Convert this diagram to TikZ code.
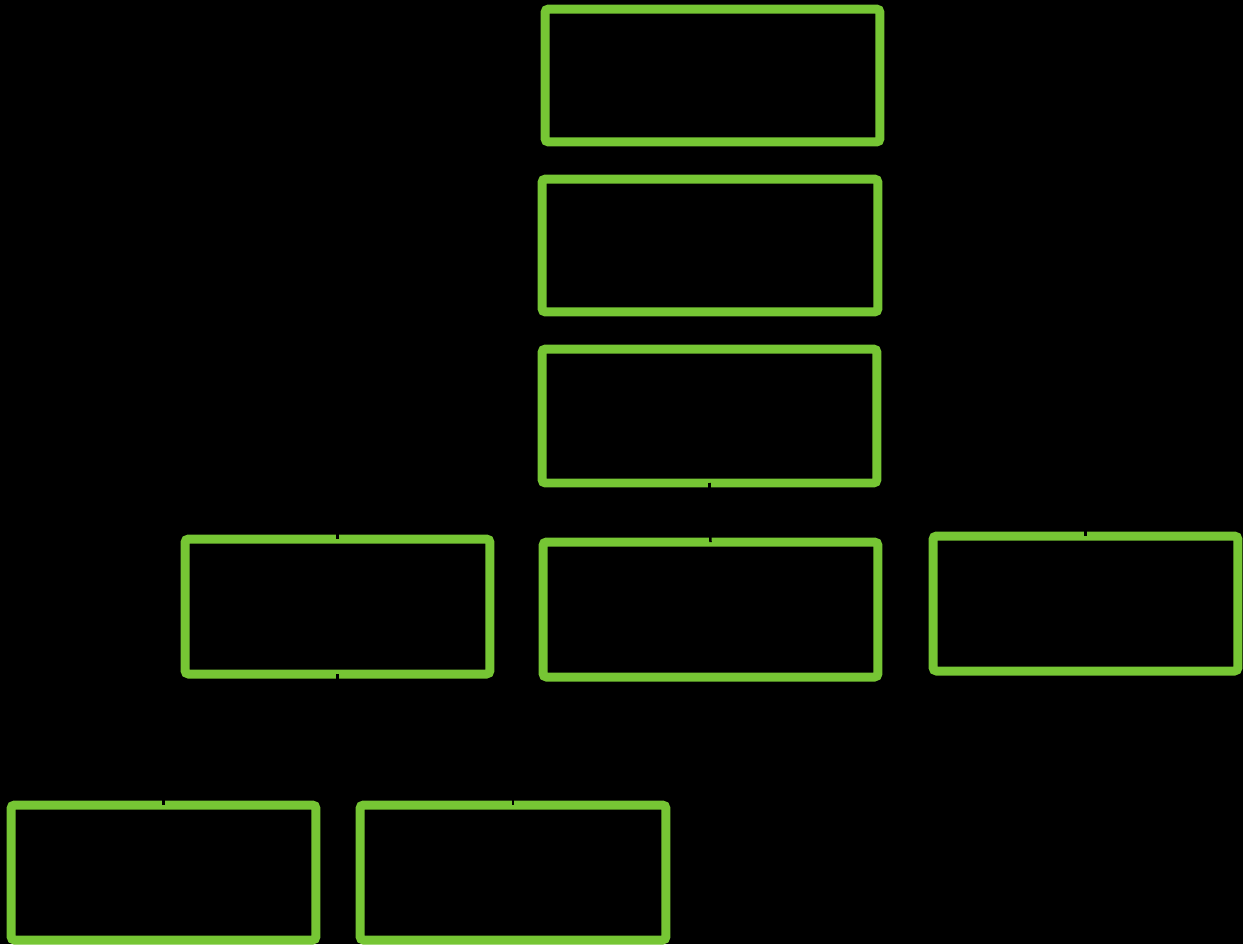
\documentclass[tikz,border=0pt]{standalone}
\definecolor{boxgreen}{RGB}{118,198,52}
\begin{document}
\begin{tikzpicture}[x=0.02cm,y=-0.02cm,
  gbox/.style={draw=boxgreen,line width=0.18cm,rounded corners=2pt,outer sep=0pt,inner sep=0pt},
  conn/.style={draw=black,line width=0.05cm}]
\fill[black] (0,0) rectangle (1243,944);
\useasboundingbox (0,0) rectangle (1243,944);
\node[gbox,minimum width=6.70cm,minimum height=2.66cm] (b1) at (712.5,75.5) {};
\node[gbox,minimum width=6.72cm,minimum height=2.66cm] (b2) at (710,245.5) {};
\node[gbox,minimum width=6.70cm,minimum height=2.68cm] (b3) at (709.5,416) {};
\node[gbox,minimum width=6.70cm,minimum height=2.70cm] (b4) at (710.5,609.5) {};
\node[gbox,minimum width=6.10cm,minimum height=2.70cm] (bl) at (337.5,606.5) {};
\node[gbox,minimum width=6.10cm,minimum height=2.70cm] (br) at (1085.5,603.5) {};
\node[gbox,minimum width=6.10cm,minimum height=2.70cm] (bb1) at (163.5,872.5) {};
\node[gbox,minimum width=6.12cm,minimum height=2.70cm] (bb2) at (513,872.5) {};
\coordinate (j1) at (709.5,510);
\coordinate (j2) at (337.5,740);
\draw[conn] (b3.south) -- (b4.north);
\draw[conn] (b3.south) -- (j1) -| (bl.north);
\draw[conn] (j1) -| (br.north);
\draw[conn] (bl.south) -- (j2) -| (bb1.north);
\draw[conn] (j2) -| (bb2.north);
\end{tikzpicture}
\end{document}
